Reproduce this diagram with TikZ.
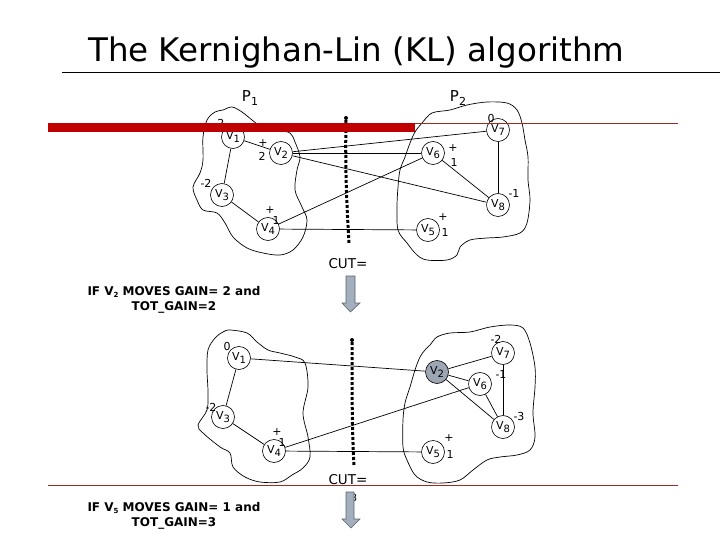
\documentclass[tikz,border=0pt]{standalone}
\usepackage{fontspec}
\setmainfont{DejaVu Sans}
\usetikzlibrary{arrows.meta}
\definecolor{barred}{HTML}{C00000}
\definecolor{thinred}{HTML}{A02828}
\definecolor{arrgray}{HTML}{A4AFBD}
\definecolor{arrdark}{HTML}{5A6470}
\definecolor{movedgray}{HTML}{9DA6B3}
\newcommand{\vname}[1]{V\raisebox{-3.5pt}{\fontsize{10}{10}\selectfont #1}}

\begin{document}
\begin{tikzpicture}[x=1pt, y=-1pt,
  vtx/.style={circle, draw, fill=white, line width=0.6pt, minimum size=23pt, inner sep=0pt, font=\fontsize{11}{11}\selectfont},
  gain/.style={inner sep=0pt, font=\fontsize{11}{11}\selectfont},
  edge/.style={line width=0.7pt},
  blob/.style={line width=0.7pt, smooth cycle, tension=0.55},
  cutline/.style={line width=3pt, dash pattern=on 3pt off 2pt},
  cutlbl/.style={inner sep=0pt, font=\fontsize{13.5}{13.5}\selectfont},
  cutval/.style={inner sep=0pt, font=\fontsize{10}{10}\selectfont},
  movetext/.style={align=center, inner sep=0pt, font=\fontsize{12}{15}\selectfont\bfseries},
  downarrow/.style={fill=arrgray, draw=arrdark, line width=0.6pt}]

\useasboundingbox (0,0) rectangle (720,540);

% Title
\node[anchor=base west, inner sep=0pt, font=\fontsize{32.5}{32.5}\selectfont] (title) at (88,62) {The Kernighan-Lin (KL) algorithm};
\draw[line width=0.8pt] (62,72) -- (720,72);

% Partition labels
\node[inner sep=0pt, font=\fontsize{15}{15}\selectfont] (p1) at (250,98) {P\raisebox{-4pt}{\fontsize{11}{11}\selectfont 1}};
\node[inner sep=0pt, font=\fontsize{15}{15}\selectfont] (p2) at (458,98) {P\raisebox{-4pt}{\fontsize{11}{11}\selectfont 2}};

% Upper graph: partitions
\draw[blob] plot coordinates {(223,110) (232,107) (242,112) (252,120) (262,127) (277,130) (290,133) (295,142) (300,157) (297,170) (295,190) (302,207) (307,220) (303,237) (293,250) (280,255) (263,253) (247,248) (233,237) (225,223) (217,213) (203,210) (197,200) (193,187) (200,173) (203,160) (203,137) (207,120) (215,112)};
\draw[blob] plot coordinates {(432,113) (450,110) (467,105) (487,102) (507,103) (517,110) (522,123) (525,140) (528,157) (528,180) (530,200) (527,223) (520,233) (503,237) (487,238) (470,240) (460,247) (457,255) (447,260) (427,260) (417,255) (407,243) (398,230) (397,207) (398,187) (400,170) (405,157) (410,143) (415,132) (422,123)};

% Upper graph: vertices
\node[vtx] (a1) at (233,137) {\vname{1}};
\node[vtx] (a2) at (281,153) {\vname{2}};
\node[vtx] (a3) at (222,195) {\vname{3}};
\node[vtx] (a4) at (268,229) {\vname{4}};
\node[vtx] (a5) at (428,230) {\vname{5}};
\node[vtx] (a6) at (433,153) {\vname{6}};
\node[vtx] (a7) at (498,130) {\vname{7}};
\node[vtx] (a8) at (498,205) {\vname{8}};

% Upper graph: edges
\draw[edge] (a1) -- (a2);
\draw[edge] (a1) -- (a3);
\draw[edge] (a3) -- (a4);
\draw[edge] (a2) -- (a7);
\draw[edge] (a2) -- (a6);
\draw[edge] (a2) -- (a8);
\draw[edge] (a4) -- (a6);
\draw[edge] (a4) -- (a5);
\draw[edge] (a6) -- (a8);
\draw[edge] (a7) -- (a8);

% Upper graph: gains
\node[gain] (ga1) at (219,123) {-2};
\node[gain] (ga2p) at (263,143) {+};
\node[gain] (ga2) at (262,156) {2};
\node[gain] (ga3) at (206,183) {-2};
\node[gain] (ga4p) at (270,210) {+};
\node[gain] (ga4) at (276,220) {1};
\node[gain] (ga5p) at (443,217) {+};
\node[gain] (ga5) at (445,232) {1};
\node[gain] (ga6p) at (453,148) {+};
\node[gain] (ga6) at (454,162) {1};
\node[gain] (ga7) at (491,118) {0};
\node[gain] (ga8) at (514,193) {-1};

% Upper cut
\fill (346,118) circle (2pt);
\draw[cutline] (346,120) .. controls (345,170) and (347,210) .. (349,243);
\node[cutval] (cutv1) at (349,284) {5};
\draw[downarrow] (346,276) -- (355,276) -- (355,303) -- (360,303) -- (350.5,312) -- (342,303) -- (346,303) -- cycle;
\node[cutlbl] (cut1) at (348,264) {CUT=};

\node[movetext] (move1) at (174,300) {IF V\raisebox{-2pt}{\fontsize{7}{7}\selectfont 2} MOVES GAIN= 2 and\\TOT\_GAIN=2};

% Lower graph: partitions
\draw[blob] plot coordinates {(230,330) (247,333) (257,342) (268,350) (280,353) (295,357) (305,363) (308,387) (303,413) (308,437) (310,457) (303,468) (292,475) (280,482) (260,482) (245,477) (233,467) (230,453) (220,447) (203,433) (198,425) (207,410) (208,392) (207,370) (208,350) (215,338) (223,332)};
\draw[blob] plot coordinates {(437,337) (450,333) (470,332) (490,327) (510,325) (523,328) (530,343) (535,367) (535,387) (533,413) (535,437) (530,450) (517,455) (500,457) (487,460) (473,470) (460,480) (443,483) (427,482) (415,475) (407,460) (403,447) (403,420) (405,403) (410,387) (415,370) (420,357) (425,350) (430,345)};

% Lower graph: vertices
\node[vtx] (b1) at (239,358) {\vname{1}};
\node[vtx, fill=movedgray] (b2) at (437,372) {\vname{2}};
\node[vtx] (b3) at (223,417) {\vname{3}};
\node[vtx] (b4) at (274,451) {\vname{4}};
\node[vtx] (b5) at (433,452) {\vname{5}};
\node[vtx] (b6) at (480,384) {\vname{6}};
\node[vtx] (b7) at (503,353) {\vname{7}};
\node[vtx] (b8) at (503,427) {\vname{8}};

% Lower graph: edges
\draw[edge] (b1) -- (b2);
\draw[edge] (b1) -- (b3);
\draw[edge] (b3) -- (b4);
\draw[edge] (b4) -- (b6);
\draw[edge] (b4) -- (b5);
\draw[edge] (b2) -- (b7);
\draw[edge] (b2) -- (b6);
\draw[edge] (b2) -- (b8);
\draw[edge] (b6) -- (b8);
\draw[edge] (b7) -- (b8);

% Lower graph: gains
\node[gain] (gb1) at (227,346) {0};
\node[gain] (gb3) at (211,407) {-2};
\node[gain] (gb4p) at (277,432) {+};
\node[gain] (gb4) at (282,442) {1};
\node[gain] (gb5p) at (449,438) {+};
\node[gain] (gb5) at (450,454) {1};
\node[gain] (gb6) at (501,374) {-1};
\node[gain] (gb7) at (496,339) {-2};
\node[gain] (gb8) at (519,416) {-3};

% Lower cut
\fill (352,340) circle (2pt);
\draw[cutline] (352,342) .. controls (352,390) and (352,430) .. (354,466);
\node[cutval] (cutv2) at (354,498) {3};
\draw[downarrow] (346,492) -- (354,492) -- (354,519) -- (360,519) -- (351,528) -- (342,519) -- (346,519) -- cycle;
\node[cutlbl] (cut2) at (348,480) {CUT=};

\node[movetext] (move2) at (174,516) {IF V\raisebox{-2pt}{\fontsize{7}{7}\selectfont 5} MOVES GAIN= 1 and\\TOT\_GAIN=3};

% Red marks
\fill[barred] (48,123) rectangle (415,132);
\draw[thinred, line width=1pt] (415,123.5) -- (678,123.5);
\draw[thinred, line width=1pt] (48,485.5) -- (678,485.5);

\end{tikzpicture}
\end{document}
